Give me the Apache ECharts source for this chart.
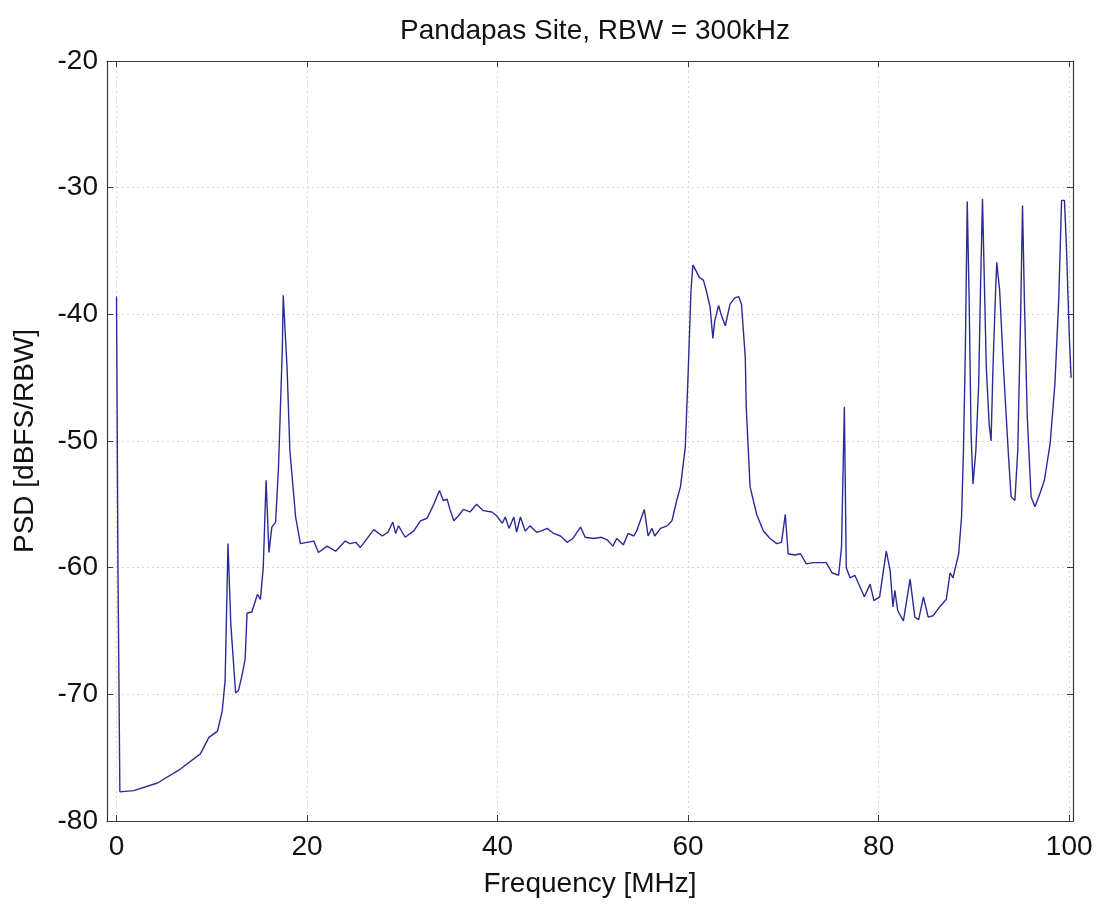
<!DOCTYPE html>
<html>
<head>
<meta charset="utf-8">
<title>Pandapas Site PSD</title>
<script src="https://cdn.jsdelivr.net/npm/echarts@6/dist/echarts.min.js"></script>
<style>
  html, body { margin: 0; padding: 0; background: #fff; }
  #chart { width: 1106px; height: 906px; }
</style>
</head>
<body>
<div id="chart"></div>
<script>
// spectrum, frequency in MHz
const freqMHz = [
  0, 0.15, 0.35, 1.8, 4.3, 6.7, 8.8, 9.7, 10.6, 11.1, 11.4, 11.7, 12.0, 12.5, 12.8, 13.2, 13.5, 13.7, 14.2,
  14.8, 15.1, 15.4, 15.7, 16.0, 16.3, 16.7, 17.0, 17.4, 17.5, 17.9, 18.2, 18.8, 19.3,
  20.7, 21.2, 22.1, 23.0, 24.0, 24.5, 25.1, 25.6, 27.0, 27.9, 28.5, 29.0, 29.3, 29.6,
  30.3, 31.2, 31.9, 32.6, 33.3, 33.9, 34.3, 34.7, 35.0, 35.4, 35.9, 36.4, 37.1, 37.8,
  38.5, 39.4, 39.9, 40.5, 40.8, 41.2, 41.7, 42.0, 42.4, 42.9, 43.4, 44.1, 44.6, 45.2,
  45.9, 46.6, 47.3, 47.9, 48.7, 49.2, 50.1, 50.9, 51.5, 52.1, 52.5, 53.2, 53.7, 54.3,
  54.6, 55.4, 55.8, 56.2, 56.5, 57.1, 57.8, 58.3, 58.8, 59.2, 59.7, 60.0, 60.3, 60.5,
  60.7, 61.2, 61.6, 61.9, 62.3, 62.6, 62.8, 63.2, 63.5, 63.9, 64.4, 64.9, 65.3, 65.6,
  66.0, 66.1, 66.5, 67.2, 67.9, 68.6, 69.3, 69.8, 70.2, 70.5, 71.2, 71.8, 72.4, 73.1,
  73.5, 74.5, 75.1, 75.8, 76.1, 76.4, 76.6, 77.0, 77.5, 78.5, 79.1, 79.5, 80.1, 80.8,
  81.2, 81.5, 81.7, 82.0, 82.6, 83.3, 83.8, 84.2, 84.7, 85.2, 85.7, 86.4, 87.1, 87.5,
  87.8, 88.4, 88.7, 88.9, 89.1, 89.3, 89.5, 89.7, 89.9, 90.2, 90.5, 90.7, 90.9, 91.1,
  91.3, 91.6, 91.8, 92.0, 92.3, 92.4, 92.7, 93.1, 93.6, 93.9, 94.3, 94.6, 94.9, 95.1,
  95.3, 95.6, 96.0, 96.4, 96.9, 97.4, 98.0, 98.5, 98.9, 99.2, 99.5, 99.7, 100.0, 100.2
];
// PSD in dBFS/RBW
const psdDb = [
  -38.6, -60, -77.7, -77.6, -77.0, -75.9, -74.7, -73.4, -72.9, -71.3, -68.9, -58.1, -64.5, -69.9, -69.7, -68.4, -67.2, -63.6, -63.5,
  -62.1, -62.5, -60.0, -53.1, -58.8, -56.8, -56.4, -52.1, -42.8, -38.5, -44.2, -50.8, -56.0, -58.1,
  -57.9, -58.8, -58.3, -58.7, -57.9, -58.1, -58.0, -58.4, -57.0, -57.5, -57.2, -56.4, -57.3, -56.7,
  -57.6, -57.1, -56.3, -56.1, -55.0, -53.9, -54.7, -54.6, -55.4, -56.3, -55.9, -55.4, -55.6, -55.0,
  -55.5, -55.6, -55.9, -56.5, -56.0, -56.9, -56.0, -57.2, -56.0, -57.1, -56.7, -57.2, -57.1, -56.9,
  -57.3, -57.5, -58.0, -57.7, -56.8, -57.6, -57.7, -57.6, -57.8, -58.3, -57.7, -58.2, -57.3, -57.5,
  -57.1, -55.4, -57.5, -56.9, -57.5, -56.9, -56.7, -56.3, -54.7, -53.6, -50.5, -44.7, -38.1, -36.1,
  -36.0, -37.1, -37.3, -38.1, -39.4, -41.9, -40.5, -39.3, -40.1, -40.9, -39.2, -38.7, -38.6, -39.2,
  -43.4, -47.3, -53.6, -55.8, -57.1, -57.7, -58.1, -58.0, -55.8, -58.9, -59.0, -58.9, -59.7, -59.6,
  -59.6, -59.6, -60.4, -60.6, -58.4, -47.3, -60.0, -60.8, -60.6, -62.3, -61.3, -62.6, -62.3, -58.7,
  -60.2, -63.1, -61.8, -63.4, -64.2, -60.9, -63.9, -64.1, -62.3, -63.9, -63.8, -63.1, -62.5, -60.4,
  -60.8, -58.9, -56.0, -50.8, -42.8, -31.1, -38.9, -49.4, -53.4, -50.8, -45.5, -37.6, -30.9, -37.6,
  -44.2, -48.7, -50.0, -44.2, -37.6, -35.9, -38.1, -44.2, -50.8, -54.4, -54.7, -50.8, -40.2, -31.4,
  -38.9, -48.1, -54.4, -55.2, -54.2, -53.1, -50.2, -45.5, -38.9, -31.0, -31.0, -34.4, -41.5, -45.0
];
const xTicks = [0, 20, 40, 60, 80, 100];

const points = freqMHz.map((f, i) => [f, psdDb[i]]);

const fontFam = '"Liberation Sans", Arial, sans-serif';
const gridLine = { show: true, lineStyle: { color: '#d4d4d4', type: [2, 3], width: 1 } };
const frameLine = { show: true, onZero: false, lineStyle: { color: '#3a3a3a', width: 1.2 } };

let chart = echarts.init(document.getElementById('chart'));
chart.setOption({
  animation: false,
  backgroundColor: '#fff',
  title: {
    text: 'Pandapas Site, RBW = 300kHz',
    left: 590,
    textAlign: 'center',
    top: 12,
    textStyle: { fontFamily: fontFam, fontSize: 28, fontWeight: 'normal', color: '#111' }
  },
  grid: { left: 107, right: 33, top: 61, bottom: 85 },
  xAxis: [{
    type: 'value',
    min: -1,
    max: 100.4,
    name: 'Frequency [MHz]',
    nameLocation: 'middle',
    nameGap: 49,
    nameTextStyle: { fontFamily: fontFam, fontSize: 28, color: '#111' },
    axisLine: frameLine,
    axisTick: { show: true, inside: true, length: 6, customValues: xTicks, lineStyle: { color: '#3a3a3a' } },
    axisLabel: { customValues: xTicks, fontFamily: fontFam, fontSize: 28, color: '#111', margin: 12 },
    splitLine: gridLine
  }, {
    type: 'value',
    position: 'top',
    min: -1,
    max: 100.4,
    axisLine: frameLine,
    axisTick: { show: true, inside: true, length: 6, customValues: xTicks, lineStyle: { color: '#3a3a3a' } },
    axisLabel: { show: false },
    splitLine: { show: false }
  }],
  yAxis: [{
    type: 'value',
    min: -80,
    max: -20,
    interval: 10,
    name: 'PSD [dBFS/RBW]',
    nameLocation: 'middle',
    nameGap: 68,
    nameTextStyle: { fontFamily: fontFam, fontSize: 28, color: '#111' },
    axisLine: frameLine,
    axisTick: { show: true, inside: true, length: 6, lineStyle: { color: '#3a3a3a' } },
    axisLabel: { fontFamily: fontFam, fontSize: 28, color: '#111', margin: 9 },
    splitLine: gridLine
  }, {
    type: 'value',
    position: 'right',
    min: -80,
    max: -20,
    interval: 10,
    axisLine: frameLine,
    axisTick: { show: true, inside: true, length: 6, lineStyle: { color: '#3a3a3a' } },
    axisLabel: { show: false },
    splitLine: { show: false }
  }],
  series: [{
    type: 'line',
    data: points,
    showSymbol: false,
    symbol: 'none',
    lineStyle: { color: '#2b2b95', width: 1.4 },
    z: 5
  }]
});
</script>
</body>
</html>
